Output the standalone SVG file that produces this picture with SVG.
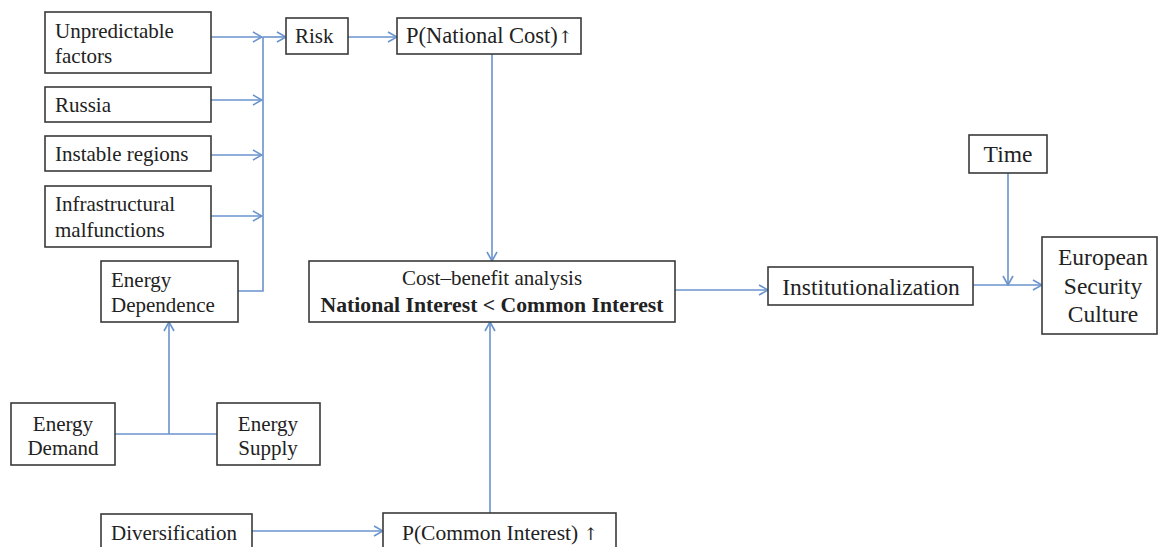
<svg xmlns="http://www.w3.org/2000/svg" width="1158" height="547" viewBox="0 0 1158 547">
<style>
.box{fill:#fff;stroke:#3a3a3a;stroke-width:1.6}
.t{font-family:"Liberation Serif","Times New Roman",serif;font-size:21px;fill:#222}
.L{font-size:23.5px}
.c{text-anchor:middle}
.b{font-weight:bold;font-size:21.7px}
.ar{font-family:"DejaVu Serif",serif;font-size:17px;fill:#222}
.ln{fill:none;stroke:#6a93cc;stroke-width:1.6}
</style>
<defs>
<marker id="ah" viewBox="0 0 12 12" refX="11" refY="6" markerWidth="12" markerHeight="12" markerUnits="userSpaceOnUse" orient="auto">
<path d="M2,1 L11,6 L2,11" fill="none" stroke="#6a93cc" stroke-width="1.6"/>
</marker>
</defs>
<rect width="1158" height="547" fill="#fff"/>
<g id="connectors">
<line class="ln" x1="211" y1="37" x2="262" y2="37" marker-end="url(#ah)"/>
<line class="ln" x1="211" y1="100" x2="262" y2="100" marker-end="url(#ah)"/>
<line class="ln" x1="211" y1="155" x2="262" y2="155" marker-end="url(#ah)"/>
<line class="ln" x1="211" y1="216" x2="262" y2="216" marker-end="url(#ah)"/>
<polyline class="ln" points="238,291 263,291 263,37"/>
<line class="ln" x1="263" y1="37" x2="286" y2="37" marker-end="url(#ah)"/>
<line class="ln" x1="348" y1="37" x2="397" y2="37" marker-end="url(#ah)"/>
<line class="ln" x1="492" y1="54" x2="492" y2="261" marker-end="url(#ah)"/>
<line class="ln" x1="115" y1="434" x2="217" y2="434"/>
<line class="ln" x1="169" y1="434" x2="169" y2="322" marker-end="url(#ah)"/>
<line class="ln" x1="252" y1="531" x2="383" y2="531" marker-end="url(#ah)"/>
<line class="ln" x1="490" y1="513" x2="490" y2="322" marker-end="url(#ah)"/>
<line class="ln" x1="675" y1="290" x2="768" y2="290" marker-end="url(#ah)"/>
<line class="ln" x1="973" y1="285" x2="1042" y2="285" marker-end="url(#ah)"/>
<line class="ln" x1="1008" y1="173" x2="1008" y2="285" marker-end="url(#ah)"/>
</g>
<g id="unpredictable">
<rect class="box" x="45" y="12" width="166" height="61"/>
<text class="t" x="55" y="38">Unpredictable</text>
<text class="t" x="55" y="63">factors</text>
</g>
<g id="russia">
<rect class="box" x="45" y="87" width="166" height="35"/>
<text class="t" x="55" y="112">Russia</text>
</g>
<g id="instable">
<rect class="box" x="45" y="136" width="166" height="35"/>
<text class="t" x="55" y="161">Instable regions</text>
</g>
<g id="infrastructural">
<rect class="box" x="45" y="186" width="166" height="61"/>
<text class="t" x="55" y="211">Infrastructural</text>
<text class="t" x="55" y="237">malfunctions</text>
</g>
<g id="risk">
<rect class="box" x="286" y="18" width="62" height="36"/>
<text class="t" x="295" y="43">Risk</text>
</g>
<g id="pnational">
<rect class="box" x="397" y="18" width="184" height="36"/>
<text class="t" x="406" y="43" style="font-size:22.5px">P(National Cost)<tspan class="ar">↑</tspan></text>
</g>
<g id="dependence">
<rect class="box" x="101" y="261" width="137" height="61"/>
<text class="t" x="111" y="287">Energy</text>
<text class="t" x="111" y="312">Dependence</text>
</g>
<g id="demand">
<rect class="box" x="11" y="403" width="104" height="62"/>
<text class="t c" x="63" y="431">Energy</text>
<text class="t c" x="63" y="455">Demand</text>
</g>
<g id="supply">
<rect class="box" x="217" y="403" width="103" height="62"/>
<text class="t c" x="268" y="431">Energy</text>
<text class="t c" x="268" y="455">Supply</text>
</g>
<g id="costbenefit">
<rect class="box" x="309" y="261" width="366" height="61"/>
<text class="t c" x="492" y="285">Cost–benefit analysis</text>
<text class="t c b" x="492" y="312">National Interest &lt; Common Interest</text>
</g>
<g id="institutionalization">
<rect class="box" x="768" y="267" width="205" height="38"/>
<text class="t c L" x="871" y="295">Institutionalization</text>
</g>
<g id="time">
<rect class="box" x="969" y="135" width="78" height="38"/>
<text class="t c L" x="1008" y="162">Time</text>
</g>
<g id="european">
<rect class="box" x="1042" y="237" width="115" height="97"/>
<text class="t c L" x="1103" y="265">European</text>
<text class="t c L" x="1103" y="294">Security</text>
<text class="t c L" x="1103" y="322">Culture</text>
</g>
<g id="diversification">
<rect class="box" x="101" y="514" width="151" height="40"/>
<text class="t" x="111" y="540">Diversification</text>
</g>
<g id="pcommon">
<rect class="box" x="383" y="513" width="233" height="40"/>
<text class="t" x="402" y="540" style="font-size:21.5px">P(Common Interest) <tspan class="ar">↑</tspan></text>
</g>
</svg>
